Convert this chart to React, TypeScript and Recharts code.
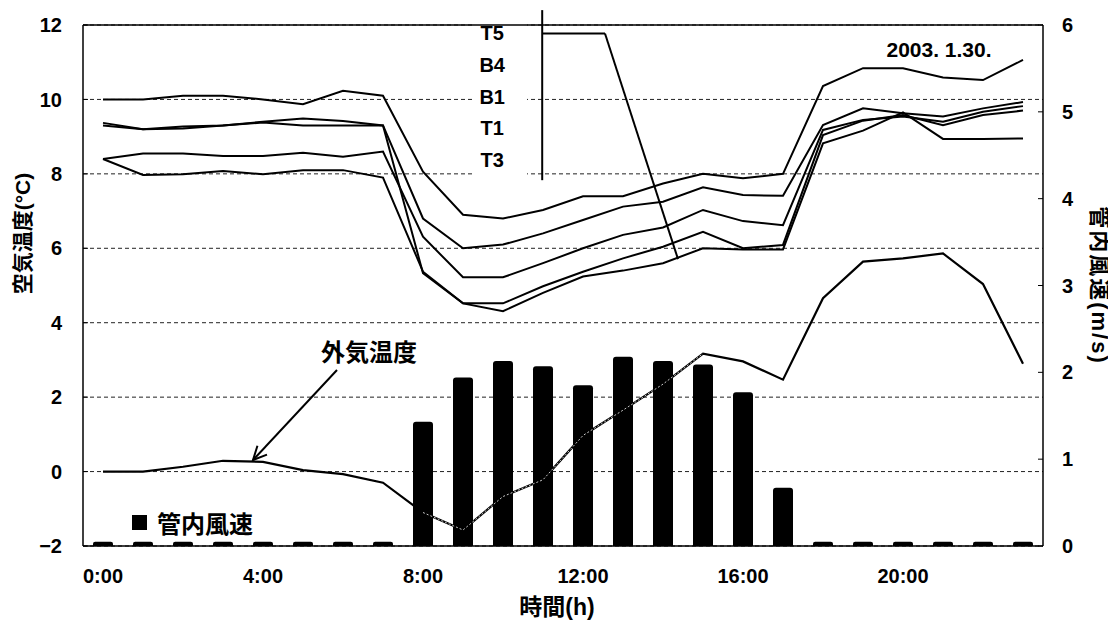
import React from 'react';
import {
  ComposedChart, Bar, Line, XAxis, YAxis, CartesianGrid,
  ReferenceLine, ReferenceArea, ReferenceDot, Legend, Label,
} from 'recharts';

// hour of day (0:00 .. 23:00)
const hours = [0, 1, 2, 3, 4, 5, 6, 7, 8, 9, 10, 11, 12, 13, 14, 15, 16, 17, 18, 19, 20, 21, 22, 23];

// air temperature in the duct (°C)
const t5 = [10.0, 10.0, 10.1, 10.1, 10.0, 9.87, 10.23, 10.1, 8.06, 6.9, 6.8, 7.03, 7.4, 7.4, 7.74, 8.0, 7.88, 8.0, 10.36, 10.84, 10.84, 10.59, 10.52, 11.06];
const b4 = [9.37, 9.2, 9.27, 9.3, 9.4, 9.49, 9.42, 9.3, 6.8, 6.0, 6.1, 6.4, 6.76, 7.12, 7.25, 7.64, 7.43, 7.41, 9.31, 9.76, 9.63, 9.54, 9.76, 9.93];
const b1 = [9.3, 9.2, 9.22, 9.3, 9.38, 9.3, 9.3, 9.3, 5.33, 4.52, 4.31, 4.8, 5.24, 5.4, 5.6, 6.0, 5.97, 5.97, 8.82, 9.16, 9.65, 8.94, 8.94, 8.95];
const t1 = [8.4, 8.55, 8.55, 8.48, 8.48, 8.57, 8.46, 8.6, 6.31, 5.22, 5.22, 5.6, 6.0, 6.36, 6.56, 7.03, 6.73, 6.62, 9.18, 9.45, 9.54, 9.4, 9.67, 9.82];
const t3 = [8.4, 7.97, 7.99, 8.08, 7.99, 8.1, 8.1, 7.9, 5.37, 4.52, 4.52, 4.98, 5.37, 5.73, 6.04, 6.44, 6.0, 6.09, 9.04, 9.43, 9.58, 9.31, 9.58, 9.7];

// outside air temperature (°C)
const outdoor = [0.0, 0.0, 0.13, 0.29, 0.26, 0.04, -0.07, -0.3, -1.1, -1.57, -0.67, -0.22, 0.97, 1.65, 2.35, 3.17, 2.96, 2.47, 4.66, 5.64, 5.73, 5.86, 5.04, 2.9];

// wind speed in the duct (m/s)
const windSpeed = [0.05, 0.05, 0.05, 0.05, 0.05, 0.05, 0.05, 0.05, 1.43, 1.94, 2.13, 2.07, 1.85, 2.18, 2.13, 2.09, 1.77, 0.67, 0.05, 0.05, 0.05, 0.05, 0.05, 0.05];

const seriesNames = ['T5', 'B4', 'B1', 'T1', 'T3'];
const leftTicks = [-2, 0, 2, 4, 6, 8, 10, 12];
const rightTicks = [0, 1, 2, 3, 4, 5, 6];
const hourTicks = [0, 4, 8, 12, 16, 20];

const data = hours.map((h, i) => ({
  h,
  T5: t5[i],
  B4: b4[i],
  B1: b1[i],
  T1: t1[i],
  T3: t3[i],
  outdoor: outdoor[i],
  // the part of the outside-air line that runs over the bars is drawn light in the original
  outdoorOnBars: i >= 8 && i <= 15 ? outdoor[i] : null,
  wind: windSpeed[i],
}));

const FONT = "'Liberation Sans', 'Noto Sans CJK JP', sans-serif";
const tickStyle = { fill: '#000', fontSize: 20, fontWeight: 'bold', fontFamily: FONT };
const textStyle = { fill: '#000', fontSize: 20, fontWeight: 'bold', fontFamily: FONT };

// line with an open arrow head at its end
const ArrowLine = (props: any) => {
  const { x1, y1, x2, y2 } = props;
  const ang = Math.atan2(y2 - y1, x2 - x1);
  const len = 15;
  const spread = 0.45;
  const a = [x2 - len * Math.cos(ang - spread), y2 - len * Math.sin(ang - spread)];
  const b = [x2 - len * Math.cos(ang + spread), y2 - len * Math.sin(ang + spread)];
  return (
    <g>
      <line x1={x1} y1={y1} x2={x2} y2={y2} stroke="#000" strokeWidth={2} />
      <polyline points={`${a[0]},${a[1]} ${x2},${y2} ${b[0]},${b[1]}`} fill="none" stroke="#000" strokeWidth={2} />
    </g>
  );
};

const BarLegend = () => (
  <div style={{ display: 'flex', alignItems: 'center', fontFamily: FONT, fontWeight: 'bold', fontSize: 24, color: '#000' }}>
    <span style={{ display: 'inline-block', width: 15, height: 15, background: '#000', marginRight: 10 }} />
    管内風速
  </div>
);

export default function App() {
  return (
    <div style={{ width: 1106, height: 616, background: '#fff' }}>
      <ComposedChart width={1106} height={616} data={data} margin={{ top: 17, right: 0, bottom: 0, left: 0 }}>
        <CartesianGrid yAxisId="left" vertical={false} stroke="#222" strokeDasharray="4 3" />
        <XAxis
          dataKey="h"
          type="number"
          domain={[-0.5, 23.5]}
          ticks={hourTicks}
          tickFormatter={(h: number) => `${h}:00`}
          tickLine={false}
          tickSize={0}
          tickMargin={23}
          height={78}
          tick={tickStyle}
          axisLine={{ stroke: '#000', strokeWidth: 1.5 }}
        >
          <Label value="時間(h)" position="insideBottom" offset={9} dx={-6} style={{ ...textStyle, fontSize: 23 }} />
        </XAxis>
        <YAxis
          yAxisId="left"
          domain={[-2, 12]}
          ticks={leftTicks}
          interval={0}
          width={75}
          tickSize={-5}
          tickMargin={26}
          tick={tickStyle}
          tickFormatter={(v: number) => (v < 0 ? `−${-v}` : `${v}`)}
          axisLine={{ stroke: '#000', strokeWidth: 1.5 }}
          tickLine={{ stroke: '#000' }}
          label={
            <Label
              content={(p: any) => {
                const cx = p.viewBox.x + 14;
                const cy = p.viewBox.y + p.viewBox.height / 2 - 52;
                return (
                  <text x={cx} y={cy} transform={`rotate(-90, ${cx}, ${cy})`} textAnchor="middle" dominantBaseline="central" style={{ ...textStyle, fontSize: 21 }}>
                    空気温度(°C)
                  </text>
                );
              }}
            />
          }
        />
        <YAxis
          yAxisId="right"
          orientation="right"
          domain={[0, 6]}
          ticks={rightTicks}
          interval={0}
          width={71}
          tickSize={-5}
          tickMargin={24}
          tick={tickStyle}
          axisLine={{ stroke: '#000', strokeWidth: 1.5 }}
          tickLine={{ stroke: '#000' }}
          label={
            <Label
              content={(p: any) => {
                const cx = p.viewBox.x + 56;
                const cy = p.viewBox.y + p.viewBox.height / 2;
                return (
                  <text x={cx} y={cy} transform={`rotate(90, ${cx}, ${cy})`} textAnchor="middle" dominantBaseline="central" style={{ ...textStyle, fontSize: 22, letterSpacing: 2 }}>
                    管内風速(m/s)
                  </text>
                );
              }}
            />
          }
        />

        {/* top frame line */}
        <ReferenceLine yAxisId="left" y={12} stroke="#000" strokeWidth={1.5} ifOverflow="visible" />

        <Bar yAxisId="right" dataKey="wind" name="管内風速" fill="#000" barSize={20} radius={[3, 3, 0, 0]} isAnimationActive={false} />

        {seriesNames.map((name) => (
          <Line
            key={name}
            yAxisId="left"
            dataKey={name}
            stroke="#000"
            strokeWidth={2}
            dot={false}
            isAnimationActive={false}
          />
        ))}
        <Line yAxisId="left" dataKey="outdoor" name="外気温度" stroke="#000" strokeWidth={2.2} dot={false} isAnimationActive={false} />
        <Line yAxisId="left" dataKey="outdoorOnBars" stroke="#c8c8c8" strokeWidth={1} strokeDasharray="2 2" dot={false} isAnimationActive={false} legendType="none" />

        {/* series label block */}
        <ReferenceArea yAxisId="left" x1={9.225} x2={10.6} y1={7.97} y2={12.35} fill="#fff" fillOpacity={1} stroke="none" ifOverflow="visible" />
        {seriesNames.map((name, i) => (
          <ReferenceDot
            key={`lbl-${name}`}
            yAxisId="left"
            x={9.73}
            y={11.79 - i * 0.855}
            r={0}
            fill="none"
            stroke="none"
            ifOverflow="visible"
            label={{ value: name, position: 'center', ...textStyle }}
          />
        ))}
        <ReferenceLine yAxisId="left" segment={[{ x: 10.98, y: 12.4 }, { x: 10.98, y: 7.83 }]} stroke="#000" strokeWidth={2} ifOverflow="visible" />
        <ReferenceLine yAxisId="left" segment={[{ x: 10.98, y: 11.77 }, { x: 12.55, y: 11.77 }]} stroke="#000" strokeWidth={2} ifOverflow="visible" />
        <ReferenceLine yAxisId="left" segment={[{ x: 12.55, y: 11.77 }, { x: 14.375, y: 5.71 }]} stroke="#000" strokeWidth={2} ifOverflow="visible" />

        <ReferenceDot yAxisId="left" x={20.9} y={11.33} r={0} fill="none" stroke="none" ifOverflow="visible"
          label={{ value: '2003. 1.30.', position: 'center', ...textStyle, fontSize: 21 }} />

        {/* outside air annotation */}
        <ReferenceDot yAxisId="left" x={6.65} y={3.21} r={0} fill="none" stroke="none" ifOverflow="visible"
          label={{ value: '外気温度', position: 'center', ...textStyle, fontSize: 24 }} />
        <ReferenceLine yAxisId="left" segment={[{ x: 5.85, y: 2.73 }, { x: 3.75, y: 0.31 }]} ifOverflow="visible" shape={ArrowLine} />

        <Legend
          verticalAlign="middle"
          align="center"
          content={() => <BarLegend />}
          wrapperStyle={{ position: 'absolute', left: 124, top: 497, width: 'auto', height: 'auto' }}
        />
      </ComposedChart>
    </div>
  );
}
